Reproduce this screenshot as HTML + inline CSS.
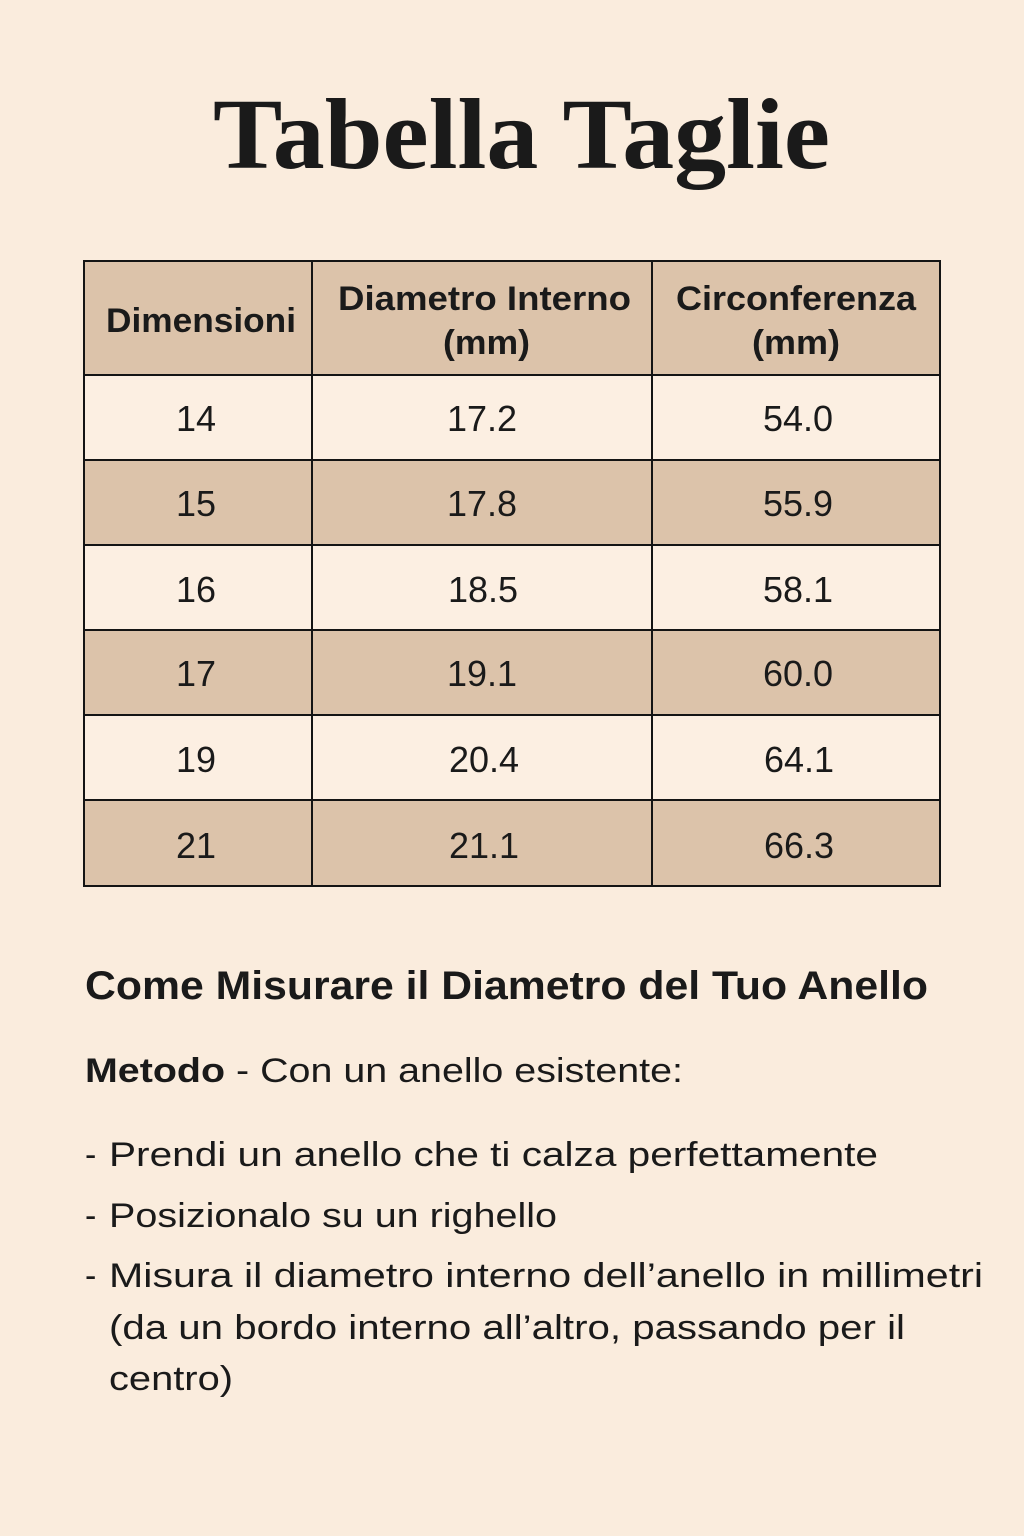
<!DOCTYPE html>
<html>
<head>
<meta charset="utf-8">
<style>
html,body{margin:0;padding:0;background:#faecdd;}
svg{display:block;}
</style>
</head>
<body>
<svg width="1024" height="1536" viewBox="0 0 1024 1536" xmlns="http://www.w3.org/2000/svg">
<rect x="0" y="0" width="1024" height="1536" fill="#faecdd"/>
<text x="213" y="168" font-family="Liberation Serif, serif" font-weight="bold" font-size="101" fill="#1a1a1a" textLength="617" lengthAdjust="spacingAndGlyphs">Tabella Taglie</text>

<!-- table fills -->
<rect x="84" y="261" width="856" height="114" fill="#dcc3aa"/>
<rect x="84" y="375" width="856" height="85" fill="#fcefe2"/>
<rect x="84" y="460" width="856" height="85" fill="#dcc3aa"/>
<rect x="84" y="545" width="856" height="85" fill="#fcefe2"/>
<rect x="84" y="630" width="856" height="85" fill="#dcc3aa"/>
<rect x="84" y="715" width="856" height="85" fill="#fcefe2"/>
<rect x="84" y="800" width="856" height="86" fill="#dcc3aa"/>

<!-- grid lines -->
<g stroke="#141414" stroke-width="2" fill="none">
<rect x="84" y="261" width="856" height="625"/>
<line x1="84" y1="375" x2="940" y2="375"/>
<line x1="84" y1="460" x2="940" y2="460"/>
<line x1="84" y1="545" x2="940" y2="545"/>
<line x1="84" y1="630" x2="940" y2="630"/>
<line x1="84" y1="715" x2="940" y2="715"/>
<line x1="84" y1="800" x2="940" y2="800"/>
<line x1="312" y1="261" x2="312" y2="886"/>
<line x1="652" y1="261" x2="652" y2="886"/>
</g>

<!-- header text -->
<g font-family="Liberation Sans, sans-serif" font-weight="bold" font-size="34" fill="#1a1a1a">
<text x="106" y="332" textLength="190" lengthAdjust="spacingAndGlyphs">Dimensioni</text>
<text x="338" y="310" textLength="293" lengthAdjust="spacingAndGlyphs">Diametro Interno</text>
<text x="443" y="354" textLength="87" lengthAdjust="spacingAndGlyphs">(mm)</text>
<text x="676" y="310" textLength="240" lengthAdjust="spacingAndGlyphs">Circonferenza</text>
<text x="752" y="354" textLength="88" lengthAdjust="spacingAndGlyphs">(mm)</text>
</g>

<!-- rows -->
<g font-family="Liberation Sans, sans-serif" font-size="36" fill="#1a1a1a" text-anchor="middle">
<text x="196" y="431">14</text><text x="482" y="431">17.2</text><text x="798" y="431">54.0</text>
<text x="196" y="516">15</text><text x="482" y="516">17.8</text><text x="798" y="516">55.9</text>
<text x="196" y="602">16</text><text x="483" y="602">18.5</text><text x="798" y="602">58.1</text>
<text x="196" y="686">17</text><text x="482" y="686">19.1</text><text x="798" y="686">60.0</text>
<text x="196" y="772">19</text><text x="484" y="772">20.4</text><text x="799" y="772">64.1</text>
<text x="196" y="858">21</text><text x="484" y="858">21.1</text><text x="799" y="858">66.3</text>
</g>

<!-- instructions -->
<g font-family="Liberation Sans, sans-serif" fill="#1a1a1a">
<text x="85" y="999" font-weight="bold" font-size="40" textLength="843" lengthAdjust="spacingAndGlyphs">Come Misurare il Diametro del Tuo Anello</text>
<text x="85" y="1082" font-weight="bold" font-size="34" textLength="140" lengthAdjust="spacingAndGlyphs">Metodo</text>
<text x="236" y="1082" font-size="34" textLength="447" lengthAdjust="spacingAndGlyphs">- Con un anello esistente:</text>
<text x="85" y="1166" font-size="34">-</text>
<text x="109" y="1166" font-size="34" textLength="769" lengthAdjust="spacingAndGlyphs">Prendi un anello che ti calza perfettamente</text>
<text x="85" y="1227" font-size="34">-</text>
<text x="109" y="1227" font-size="34" textLength="448" lengthAdjust="spacingAndGlyphs">Posizionalo su un righello</text>
<text x="85" y="1287" font-size="34">-</text>
<text x="109" y="1287" font-size="34" textLength="874" lengthAdjust="spacingAndGlyphs">Misura il diametro interno dell’anello in millimetri</text>
<text x="109" y="1339" font-size="34" textLength="796" lengthAdjust="spacingAndGlyphs">(da un bordo interno all’altro, passando per il</text>
<text x="109" y="1390" font-size="34" textLength="124" lengthAdjust="spacingAndGlyphs">centro)</text>
</g>
</svg>
</body>
</html>
